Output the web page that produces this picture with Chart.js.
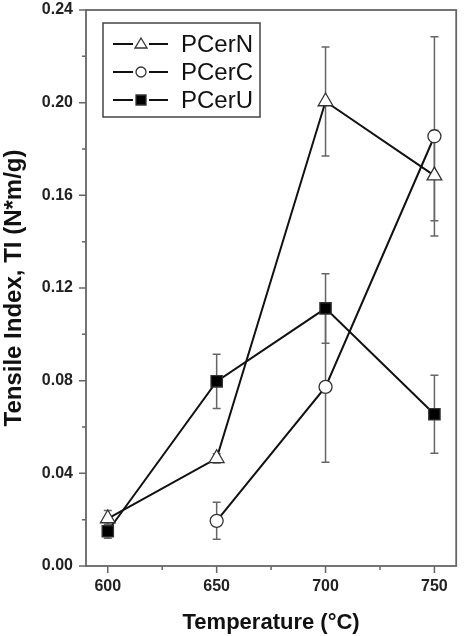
<!DOCTYPE html>
<html>
<head>
<meta charset="utf-8">
<script src="https://cdn.jsdelivr.net/npm/chart.js@4.4.0/dist/chart.umd.min.js"></script>
<style>
  body { margin: 0; background: #fff; }
  #wrap { width: 466px; height: 636px; }
</style>
</head>
<body>
<div id="wrap"><canvas id="chart"></canvas></div>
<script>
// data
const tempN = [600, 650, 700, 750];
const valN = [0.0205, 0.0465, 0.2005, 0.1685];
const errN = [0.0035, 0.0020, 0.0235, 0.0195];

const tempC = [650, 700, 750];
const valC = [0.0195, 0.0773, 0.1855];
const errC = [0.0080, 0.0325, 0.0430];

const tempU = [600, 650, 700, 750];
const valU = [0.0150, 0.0797, 0.1112, 0.0655];
const errU = [0.0030, 0.0117, 0.0150, 0.0168];

const xTicks = [600, 625, 650, 675, 700, 725, 750];
const yTicks = [0, 0.02, 0.04, 0.06, 0.08, 0.10, 0.12, 0.14, 0.16, 0.18, 0.20, 0.22, 0.24];

const legendNames = ['PCerN', 'PCerC', 'PCerU'];

const axisColor = '#666';
const errColor = '#666';

function pts(xs, ys) {
    return xs.map((x, i) => ({ x: x, y: ys[i] }));
}

const errorBars = {
    id: 'errorBars',
    beforeDatasetsDraw(chart) {
        const ctx = chart.ctx;
        const xs = chart.scales.x, ys = chart.scales.y;
        ctx.save();
        ctx.strokeStyle = errColor;
        ctx.lineWidth = 1.5;
        chart.data.datasets.forEach(ds => {
            ds.data.forEach((p, i) => {
                const e = ds.errors[i];
                const px = xs.getPixelForValue(p.x);
                const top = ys.getPixelForValue(p.y + e);
                const bot = ys.getPixelForValue(p.y - e);
                ctx.beginPath();
                ctx.moveTo(px, top); ctx.lineTo(px, bot);
                ctx.moveTo(px - 4, top); ctx.lineTo(px + 4, top);
                ctx.moveTo(px - 4, bot); ctx.lineTo(px + 4, bot);
                ctx.stroke();
            });
        });
        ctx.restore();
    }
};

const frame = {
    id: 'frame',
    afterDraw(chart) {
        const ctx = chart.ctx;
        const a = chart.chartArea;
        const xs = chart.scales.x, ys = chart.scales.y;
        ctx.save();
        ctx.strokeStyle = axisColor;
        ctx.lineWidth = 1.8;
        ctx.strokeRect(a.left, a.top, a.right - a.left, a.bottom - a.top);
        ctx.lineWidth = 1.5;
        ctx.beginPath();
        xTicks.forEach((v, i) => {
            const px = xs.getPixelForValue(v);
            const len = i % 2 === 0 ? 7 : 4;
            ctx.moveTo(px, a.bottom); ctx.lineTo(px, a.bottom + len);
        });
        yTicks.forEach((v, i) => {
            const py = ys.getPixelForValue(v);
            const len = i % 2 === 0 ? 7 : 4;
            ctx.moveTo(a.left, py); ctx.lineTo(a.left - len, py);
        });
        ctx.stroke();

        // legend box
        ctx.lineWidth = 1.5;
        ctx.strokeStyle = '#444';
        ctx.strokeRect(103, 23, 157, 94);
        const rows = [44, 72, 100];
        chart.data.datasets.forEach((ds, i) => {
            const y = rows[i];
            ctx.strokeStyle = '#111';
            ctx.lineWidth = 2;
            ctx.beginPath();
            ctx.moveTo(113, y); ctx.lineTo(133, y);
            ctx.moveTo(149, y); ctx.lineTo(168, y);
            ctx.stroke();
            ctx.lineWidth = 1.3;
            ctx.strokeStyle = '#333';
            ctx.fillStyle = ds.pointBackgroundColor;
            ctx.beginPath();
            if (ds.pointStyle === 'triangle') {
                ctx.moveTo(141, y - 6); ctx.lineTo(147, y + 4); ctx.lineTo(135, y + 4); ctx.closePath();
            } else if (ds.pointStyle === 'circle') {
                ctx.arc(141, y, 5, 0, Math.PI * 2);
            } else {
                ctx.rect(136, y - 5, 10, 10);
            }
            ctx.fill(); ctx.stroke();
            ctx.fillStyle = '#111';
            ctx.font = '24px "Liberation Sans", Arial, sans-serif';
            ctx.textBaseline = 'middle';
            ctx.fillText(legendNames[i], 181, y + 1);
        });
        ctx.restore();
    }
};

const common = {
    borderColor: '#111',
    borderWidth: 2,
    pointBorderColor: '#333',
    pointBorderWidth: 1.3,
    tension: 0
};

new Chart(document.getElementById('chart'), {
    type: 'line',
    data: {
        datasets: [
            Object.assign({
                label: legendNames[0],
                data: pts(tempN, valN),
                errors: errN,
                pointStyle: 'triangle',
                pointRadius: 8.5,
                pointBackgroundColor: '#fff'
            }, common),
            Object.assign({
                label: legendNames[1],
                data: pts(tempC, valC),
                errors: errC,
                pointStyle: 'circle',
                pointRadius: 6.5,
                pointBackgroundColor: '#fff'
            }, common),
            Object.assign({
                label: legendNames[2],
                data: pts(tempU, valU),
                errors: errU,
                pointStyle: 'rect',
                pointRadius: 8,
                pointBackgroundColor: '#000'
            }, common)
        ]
    },
    options: {
        responsive: true,
        maintainAspectRatio: false,
        animation: false,
        layout: { padding: { left: 0, right: 9, top: 10, bottom: 0 } },
        plugins: {
            legend: { display: false },
            tooltip: { enabled: false }
        },
        scales: {
            x: {
                type: 'linear',
                min: 590,
                max: 760,
                afterBuildTicks: s => { s.ticks = xTicks.map(v => ({ value: v })); },
                afterFit: s => { s.height = 70; s.paddingLeft = 0; s.paddingRight = 0; },
                grid: { display: false, drawTicks: false },
                border: { display: false },
                ticks: {
                    padding: 11,
                    color: '#222',
                    font: { family: '"Liberation Sans", Arial, sans-serif', size: 16, weight: 'bold' },
                    callback: v => (v % 50 === 0 ? String(v) : '')
                },
                title: {
                    display: true,
                    text: 'Temperature (°C)',
                    color: '#111',
                    padding: { top: 0, bottom: 0 },
                    font: { family: '"Liberation Sans", Arial, sans-serif', size: 22, weight: 'bold' }
                }
            },
            y: {
                min: 0,
                max: 0.24,
                afterBuildTicks: s => { s.ticks = yTicks.map(v => ({ value: v })); },
                afterFit: s => { s.width = 86; s.paddingTop = 0; s.paddingBottom = 0; },
                grid: { display: false, drawTicks: false },
                border: { display: false },
                ticks: {
                    padding: 13,
                    color: '#222',
                    font: { family: '"Liberation Sans", Arial, sans-serif', size: 16, weight: 'bold' },
                    callback: v => (Math.round(v * 100) % 4 === 0 ? v.toFixed(2) : '')
                },
                title: {
                    display: true,
                    text: 'Tensile Index, TI (N*m/g)',
                    color: '#111',
                    padding: { top: 0, bottom: 0 },
                    font: { family: '"Liberation Sans", Arial, sans-serif', size: 24, weight: 'bold' }
                }
            }
        }
    },
    plugins: [errorBars, frame]
});
</script>
</body>
</html>
